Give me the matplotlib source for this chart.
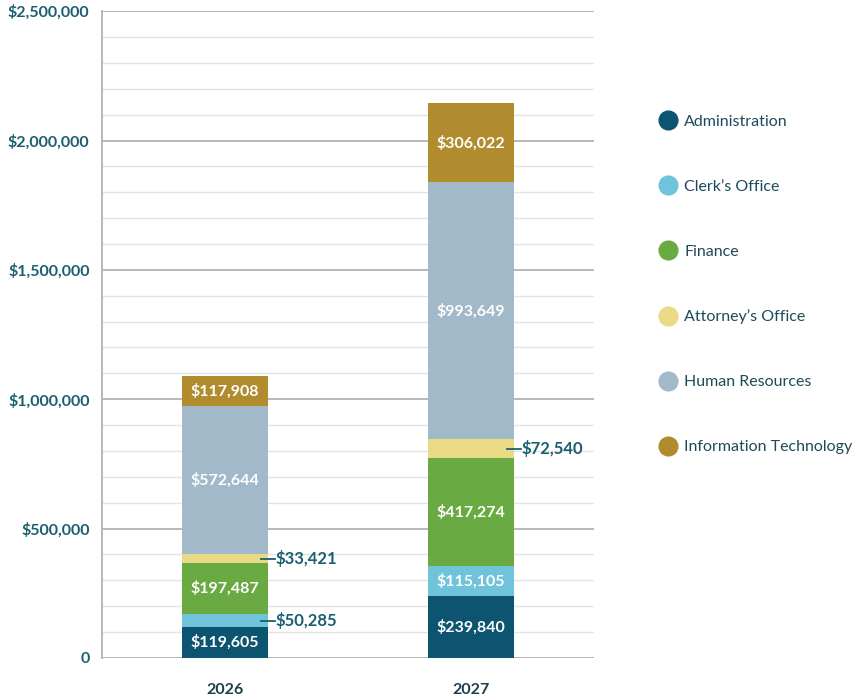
import matplotlib
matplotlib.use("Agg")
import matplotlib.pyplot as plt
from matplotlib.lines import Line2D
from matplotlib.ticker import FuncFormatter, MultipleLocator

plt.rcParams['font.family'] = ['Lato', 'DejaVu Sans']

years = ["2026", "2027"]
departments = ["Administration", "Clerk\u2019s Office", "Finance",
               "Attorney\u2019s Office", "Human Resources", "Information Technology"]
values = {
    "Administration": [119605, 239840],
    "Clerk\u2019s Office": [50285, 115105],
    "Finance": [197487, 417274],
    "Attorney\u2019s Office": [33421, 72540],
    "Human Resources": [572644, 993649],
    "Information Technology": [117908, 306022],
}
colors = ["#0c5470", "#6fc3da", "#6aaa42", "#ead985", "#a2b9c9", "#b18c2e"]
# which labels go outside the bar (per year)
outside = {
    "Clerk\u2019s Office": [True, False],
    "Attorney\u2019s Office": [True, True],
}

text_color = "#1a5f70"

fig = plt.figure(figsize=(8.58, 6.97), dpi=100)
ax = fig.add_axes([0.1189, 0.056, 0.5734, 0.928])

x = list(range(len(years)))
width = 0.35
bottoms = [0] * len(years)
for dept, col in zip(departments, colors):
    vals = values[dept]
    ax.bar(x, vals, width=width, bottom=bottoms, color=col, zorder=3, label=dept)
    for i, v in enumerate(vals):
        mid = bottoms[i] + v / 2
        lab = "${:,}".format(v)
        if outside.get(dept, [False, False])[i]:
            ax.plot([x[i] + width / 2 - 0.03, x[i] + width / 2 + 0.028], [mid, mid],
                    color=text_color, lw=1.3, zorder=4, clip_on=False)
            ax.text(x[i] + width / 2 + 0.032, mid, lab, ha="left", va="center",
                    color=text_color, fontsize=12, fontweight="bold", zorder=5)
        else:
            ax.text(x[i], mid, lab, ha="center", va="center", color="white",
                    fontsize=11.5, fontweight="bold", zorder=5)
    bottoms = [b + v for b, v in zip(bottoms, vals)]

ax.set_xlim(-0.5, 1.5)
ax.set_ylim(0, 2500000)
ax.yaxis.set_major_locator(MultipleLocator(500000))
ax.yaxis.set_minor_locator(MultipleLocator(100000))
ax.yaxis.set_major_formatter(FuncFormatter(lambda v, p: "0" if v == 0 else "${:,.0f}".format(v)))
ax.grid(axis="y", which="major", color="#b8b8b8", lw=1.4, zorder=1)
ax.grid(axis="y", which="minor", color="#e3e3e3", lw=1.0, zorder=1)
ax.set_xticks(x)
ax.set_xticklabels(years)
ax.tick_params(axis="both", which="both", length=0)
ax.tick_params(axis="y", pad=9, labelsize=11.5, labelcolor=text_color)
ax.tick_params(axis="x", pad=18, labelsize=11.5, labelcolor="#1c3f4c")
for lab in ax.get_yticklabels() + ax.get_xticklabels():
    lab.set_fontweight("bold")
for s in ["top", "right", "bottom"]:
    ax.spines[s].set_visible(False)
ax.spines["left"].set_color("#b8b8b8")
ax.spines["left"].set_linewidth(1.4)

handles = [Line2D([0], [0], marker="o", linestyle="", markersize=13.5,
                  markerfacecolor=c, markeredgecolor=c) for c in colors]
leg = fig.legend(handles, departments, loc="upper left", bbox_to_anchor=(0.762, 0.8447),
                 frameon=False, fontsize=11.5, labelspacing=3.18, handletextpad=0.5,
                 handlelength=1.0, borderaxespad=0)
for t in leg.get_texts():
    t.set_color("#1f4a5a")

fig.savefig("out.png", dpi=100)
